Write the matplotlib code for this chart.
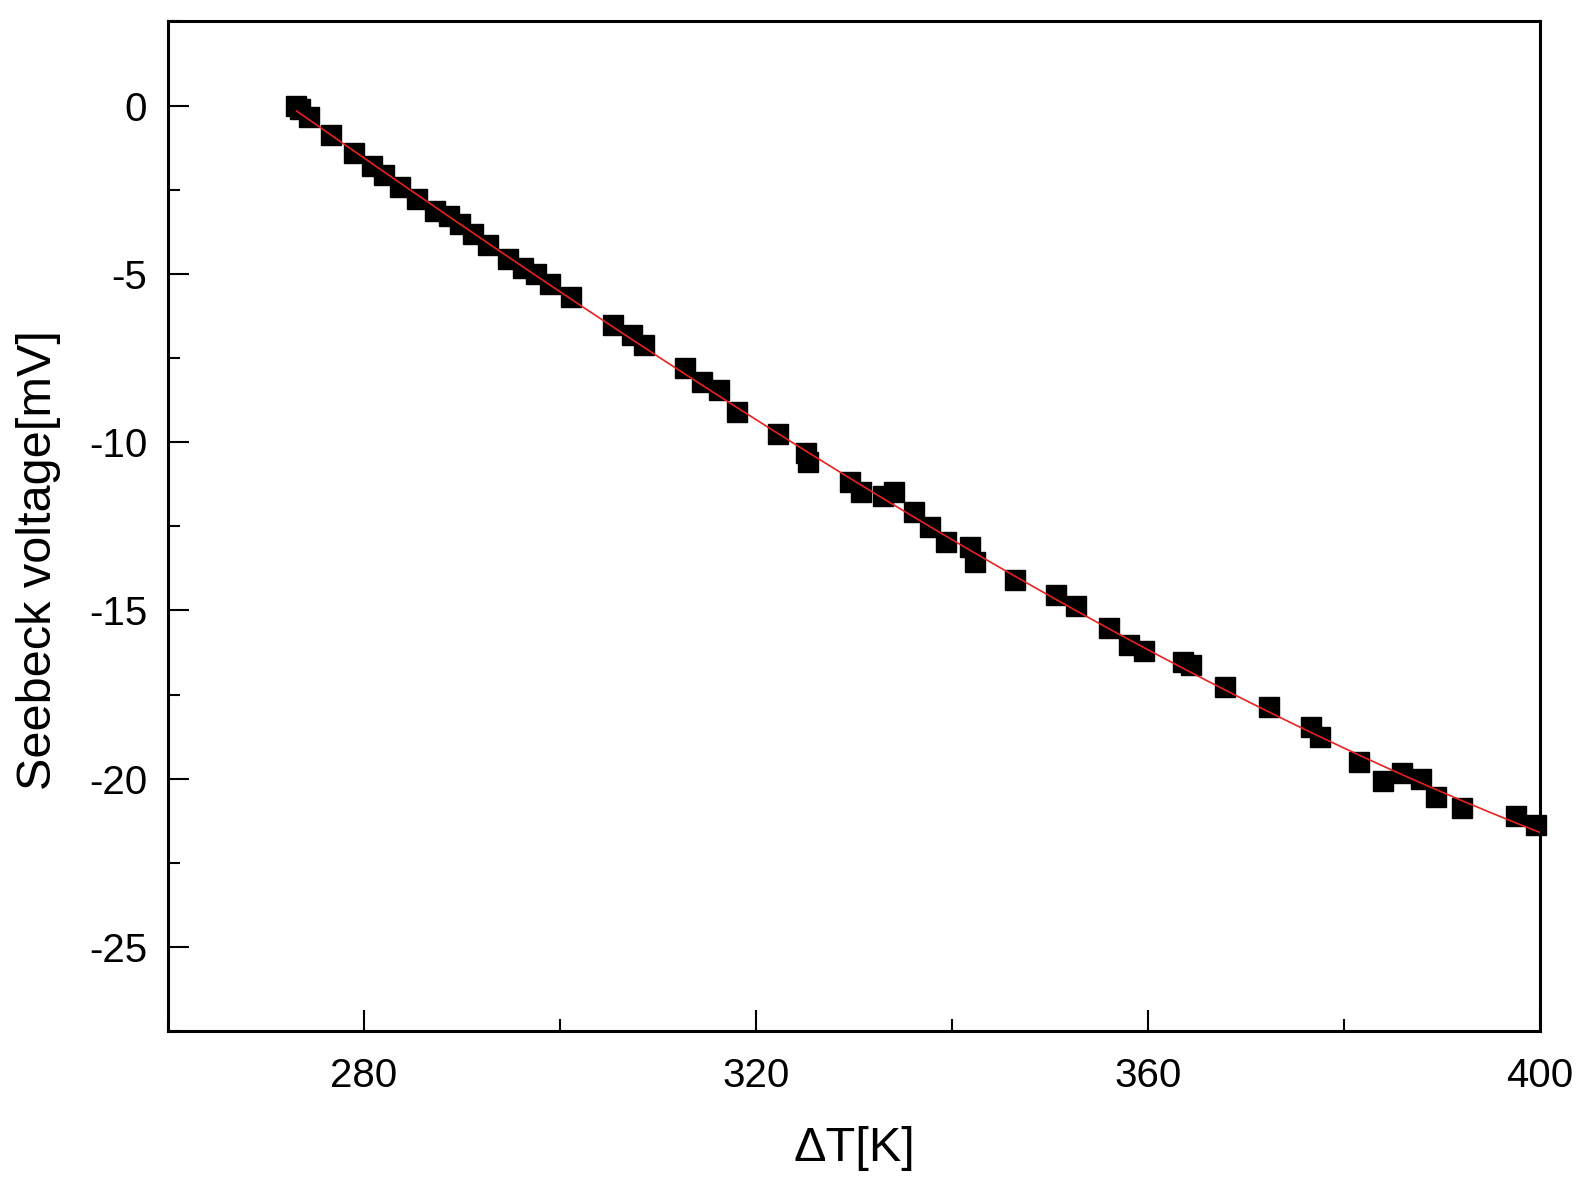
import numpy as np
import matplotlib
matplotlib.use('Agg')
import matplotlib.pyplot as plt
from matplotlib.ticker import MultipleLocator

plt.rcParams['font.family'] = ['Liberation Sans', 'DejaVu Sans']
plt.rcParams['axes.unicode_minus'] = False

delta_t = [273.1, 273.5, 274.4, 276.6, 279.0, 280.8, 282.0, 283.7, 285.4, 287.2,
           288.7, 289.8, 291.1, 292.6, 294.7, 296.2, 297.5, 299.0, 301.1, 305.4,
           307.3, 308.6, 312.7, 314.5, 316.2, 318.1, 322.2, 325.1, 325.3, 329.6,
           330.7, 333.0, 334.1, 336.1, 337.7, 339.4, 341.8, 342.3, 346.4, 350.6,
           352.6, 356.0, 358.1, 359.6, 363.6, 364.4, 367.9, 372.3, 376.6, 377.5,
           381.5, 384.0, 385.9, 387.9, 389.4, 392.0, 397.6, 399.6]
voltage = [-0.02, -0.11, -0.35, -0.86, -1.40, -1.79, -2.06, -2.42, -2.79, -3.12,
           -3.27, -3.51, -3.81, -4.14, -4.56, -4.83, -5.01, -5.31, -5.70, -6.51,
           -6.81, -7.11, -7.80, -8.22, -8.46, -9.09, -9.75, -10.32, -10.59, -11.19,
           -11.49, -11.61, -11.49, -12.09, -12.52, -12.97, -13.12, -13.57, -14.11, -14.53,
           -14.86, -15.52, -16.03, -16.21, -16.54, -16.63, -17.29, -17.86, -18.46, -18.76,
           -19.51, -20.08, -19.84, -20.02, -20.53, -20.86, -21.10, -21.37]

x = np.array(delta_t)
y = np.array(voltage)

# fitted curve through the measurements
coef = np.polyfit(x, y, 3)
xf = np.linspace(x.min(), 400, 300)
yf = np.polyval(coef, xf)

fig = plt.figure(figsize=(15.86, 11.92), dpi=100)
ax = fig.add_axes([0.106, 0.135, 0.865, 0.847])

ax.plot(x, y, 's', color='black', markersize=14.5, zorder=2, clip_on=False)
ax.plot(xf, yf, '-', color='#e8211f', linewidth=1.2, zorder=3)

ax.set_xlim(260, 400)
ax.set_ylim(-27.5, 2.5)
ax.xaxis.set_major_locator(MultipleLocator(40))
ax.xaxis.set_minor_locator(MultipleLocator(20))
ax.yaxis.set_major_locator(MultipleLocator(5))
ax.yaxis.set_minor_locator(MultipleLocator(2.5))

ax.tick_params(which='both', direction='in', top=False, right=False, width=1.5)
ax.tick_params(which='major', length=15, labelsize=29)
ax.tick_params(axis='x', which='major', pad=19)
ax.tick_params(axis='y', which='major', pad=15)
ax.tick_params(which='minor', length=8.5)
for s in ax.spines.values():
    s.set_linewidth(2.2)

ax.set_xlabel('ΔT[K]', fontsize=35, labelpad=22)
ax.set_ylabel('Seebeck voltage[mV]', fontsize=35)
ax.yaxis.set_label_coords(-0.078, 0.467)

fig.savefig('out.png', dpi=100)
